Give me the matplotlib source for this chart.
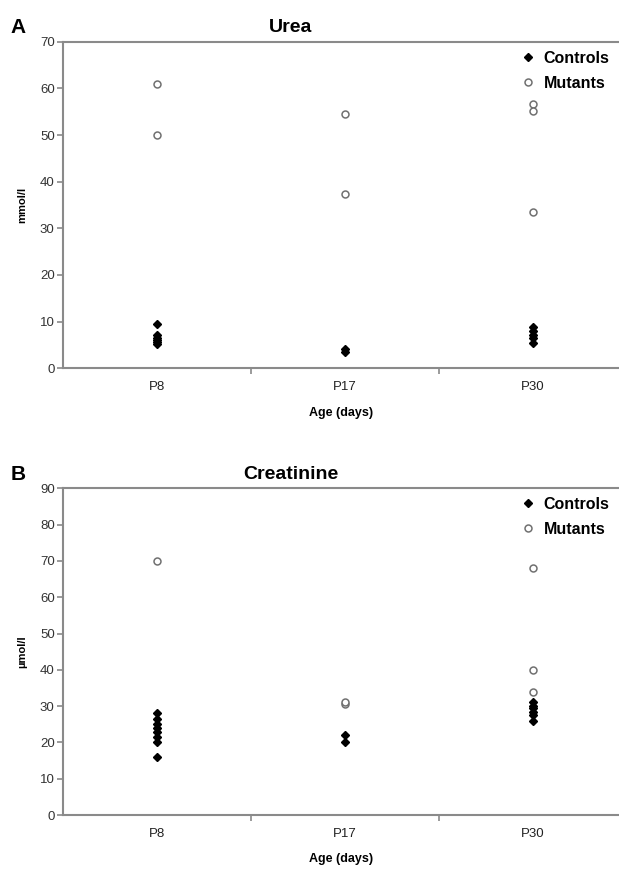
import numpy as np
import matplotlib
matplotlib.use("Agg")
from matplotlib import pyplot as plt

plt.rcParams['font.family'] = ['Liberation Sans', 'DejaVu Sans']

ages = ["P8", "P17", "P30"]

# Urea (mmol/l)
urea_controls = [[9.6, 7.2, 6.6, 6.1, 5.6, 5.2], [4.2, 3.4], [8.8, 8.0, 7.2, 6.4, 5.4]]
urea_mutants = [[60.9, 49.9], [54.4, 37.3], [56.6, 55.1, 33.6]]

# Creatinine (umol/l)
creat_controls = [[28, 26.5, 25, 24, 23, 21.5, 20, 16], [22, 20], [31, 30, 29.5, 28.5, 27.5, 26]]
creat_mutants = [[70], [30.5, 31], [68, 40, 34]]

W, H = 619, 871
fig = plt.figure(figsize=(W / 100, H / 100), dpi=100)

gray = "#8a8a8a"


def panel(top, bottom, controls, mutants, ymax, ylabel, title, letter, leg_y):
    ax = fig.add_axes([63 / W, 1 - bottom / H, 1 - 63 / W, (bottom - top) / H])
    for i, vals in enumerate(controls):
        ax.plot([i + 1] * len(vals), vals, "D", color="black", ms=4.5, mec="black", ls="none",
                label="Controls" if i == 0 else None)
    for i, vals in enumerate(mutants):
        ax.plot([i + 1] * len(vals), vals, "o", mfc="white", mec="#707070", mew=1.1, ms=5,
                ls="none", label="Mutants" if i == 0 else None)
    ax.set_xlim(0.5, 0.5 + (W - 63) / 188)
    ax.set_ylim(0, ymax)
    ax.set_yticks(np.arange(0, ymax + 1, 10))
    ax.set_xticks([1, 2, 3])
    ax.set_xticklabels(ages)
    ax.set_xticks([1.5, 2.5], minor=True)
    ax.tick_params(axis="x", which="major", length=0, pad=9, labelsize=9.5, labelcolor="#222222")
    ax.tick_params(axis="x", which="minor", length=4, color=gray, width=1.2)
    ax.tick_params(axis="y", length=4, color=gray, width=1.2, labelsize=9.5, labelcolor="#333333", pad=2)
    for s in ["left", "bottom", "top"]:
        ax.spines[s].set_color(gray)
        ax.spines[s].set_linewidth(1.5)
    ax.spines["right"].set_visible(False)
    ax.set_ylabel(ylabel, fontsize=8, fontweight="bold", labelpad=9)
    ax.set_xlabel("Age (days)", fontsize=9, fontweight="bold", labelpad=10)
    fig.text(291 / W, 1 - (top - 14) / H, title, ha="center", va="center", fontsize=14, fontweight="bold")
    fig.text(18 / W, 1 - (top - 14) / H, letter, ha="center", va="center", fontsize=15, fontweight="bold")
    ax.legend(loc="upper left", bbox_to_anchor=(522 / W, 1 - leg_y / H), bbox_transform=fig.transFigure,
              frameon=False, handlelength=0.8, handletextpad=0.55, borderpad=0, borderaxespad=0,
              labelspacing=0.62, prop={"size": 11.5, "weight": "bold"})
    return ax


panel(41.7, 368.3, urea_controls, urea_mutants, 70, "mmol/l", "Urea", "A", 51)
panel(488.3, 815, creat_controls, creat_mutants, 90, "µmol/l", "Creatinine", "B", 497)

fig.savefig("out.png", dpi=100)
